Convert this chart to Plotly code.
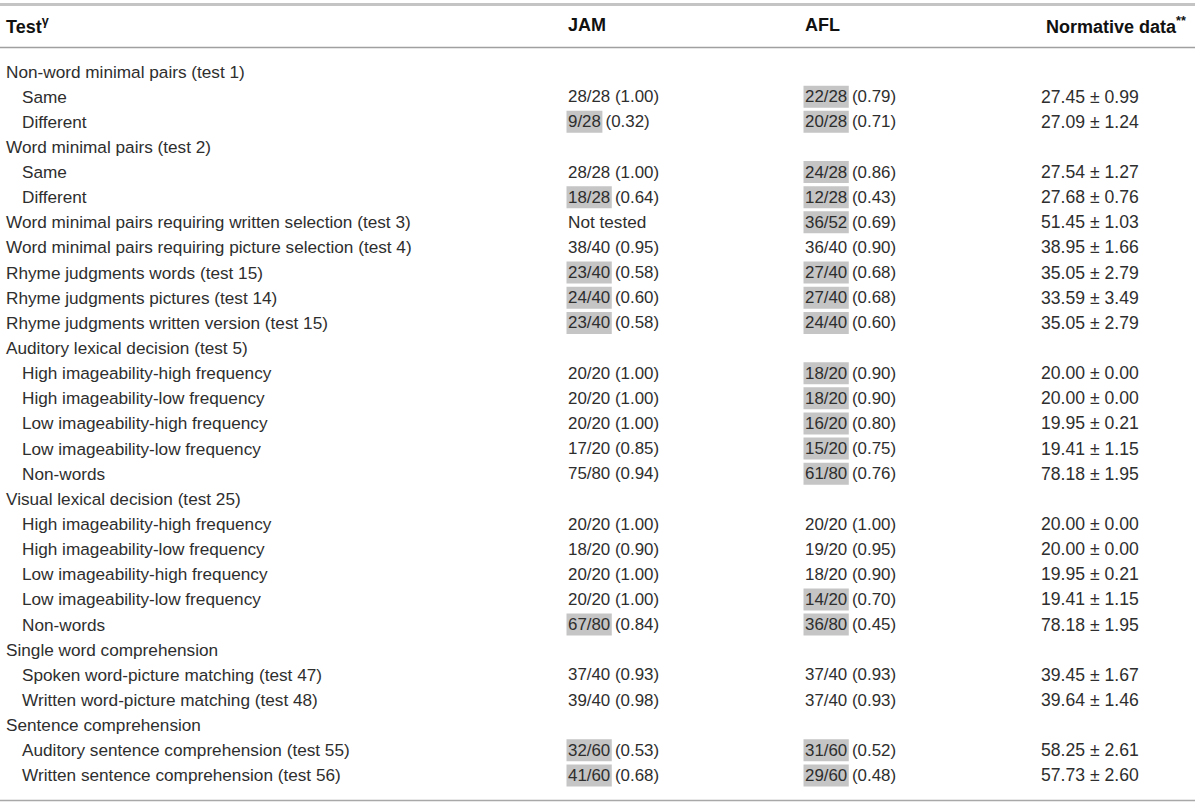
import plotly.graph_objects as go

# ---------------- data ----------------
row_labels = [
    "Non-word minimal pairs (test 1)", "Same", "Different",
    "Word minimal pairs (test 2)", "Same", "Different",
    "Word minimal pairs requiring written selection (test 3)",
    "Word minimal pairs requiring picture selection (test 4)",
    "Rhyme judgments words (test 15)",
    "Rhyme judgments pictures (test 14)",
    "Rhyme judgments written version (test 15)",
    "Auditory lexical decision (test 5)",
    "High imageability-high frequency", "High imageability-low frequency",
    "Low imageability-high frequency", "Low imageability-low frequency", "Non-words",
    "Visual lexical decision (test 25)",
    "High imageability-high frequency", "High imageability-low frequency",
    "Low imageability-high frequency", "Low imageability-low frequency", "Non-words",
    "Single word comprehension",
    "Spoken word-picture matching (test 47)", "Written word-picture matching (test 48)",
    "Sentence comprehension",
    "Auditory sentence comprehension (test 55)", "Written sentence comprehension (test 56)",
]
row_indent = [0, 1, 1, 0, 1, 1, 0, 0, 0, 0, 0, 0, 1, 1, 1, 1, 1, 0, 1, 1, 1, 1, 1, 0, 1, 1, 0, 1, 1]

jam_frac = ["", "28/28", "9/28", "", "28/28", "18/28", "Not tested", "38/40", "23/40", "24/40", "23/40",
            "", "20/20", "20/20", "20/20", "17/20", "75/80",
            "", "20/20", "18/20", "20/20", "20/20", "67/80",
            "", "37/40", "39/40", "", "32/60", "41/60"]
jam_prop = ["", "1.00", "0.32", "", "1.00", "0.64", "", "0.95", "0.58", "0.60", "0.58",
            "", "1.00", "1.00", "1.00", "0.85", "0.94",
            "", "1.00", "0.90", "1.00", "1.00", "0.84",
            "", "0.93", "0.98", "", "0.53", "0.68"]
jam_flag = [0, 0, 1, 0, 0, 1, 0, 0, 1, 1, 1, 0, 0, 0, 0, 0, 0, 0, 0, 0, 0, 0, 1, 0, 0, 0, 0, 1, 1]

afl_frac = ["", "22/28", "20/28", "", "24/28", "12/28", "36/52", "36/40", "27/40", "27/40", "24/40",
            "", "18/20", "18/20", "16/20", "15/20", "61/80",
            "", "20/20", "19/20", "18/20", "14/20", "36/80",
            "", "37/40", "37/40", "", "31/60", "29/60"]
afl_prop = ["", "0.79", "0.71", "", "0.86", "0.43", "0.69", "0.90", "0.68", "0.68", "0.60",
            "", "0.90", "0.90", "0.80", "0.75", "0.76",
            "", "1.00", "0.95", "0.90", "0.70", "0.45",
            "", "0.93", "0.93", "", "0.52", "0.48"]
afl_flag = [0, 1, 1, 0, 1, 1, 1, 0, 1, 1, 1, 0, 1, 1, 1, 1, 1, 0, 0, 0, 0, 1, 1, 0, 0, 0, 0, 1, 1]

norm_mean = ["", "27.45", "27.09", "", "27.54", "27.68", "51.45", "38.95", "35.05", "33.59", "35.05",
             "", "20.00", "20.00", "19.95", "19.41", "78.18",
             "", "20.00", "20.00", "19.95", "19.41", "78.18",
             "", "39.45", "39.64", "", "58.25", "57.73"]
norm_sd = ["", "0.99", "1.24", "", "1.27", "0.76", "1.03", "1.66", "2.79", "3.49", "2.79",
           "", "0.00", "0.00", "0.21", "1.15", "1.95",
           "", "0.00", "0.00", "0.21", "1.15", "1.95",
           "", "1.67", "1.46", "", "2.61", "2.60"]

headers = ["Test<sup>γ</sup>", "JAM", "AFL", "Normative data<sup>**</sup>"]

# ---------------- style / layout ----------------
W, H = 1200, 806
FONT = "Liberation Sans"
FS_LAB = 17.2
FS_NUM = 16.9
FS_NORM = 17.6
FS_HEAD = 18
TXT = "#2e2e2e"
HL = "#c5c5c5"
col_x = [6, 568, 805, 1041]
head_x = [6, 568, 805, 1046]
indent_px = 16
row_y0, row_dy = 71.5, 25.14
header_y = 25

# Arial-metric widths (em) for measuring fractions
cw = {c: 0.556 for c in "0123456789"}
cw.update({"/": 0.278, " ": 0.278})


def text_w(s, fs):
    return sum(cw.get(c, 0.556) for c in s) * fs


fig = go.Figure()
fig.add_trace(go.Scatter(x=[0, W], y=[0, H], mode="markers",
                         marker=dict(opacity=0), hoverinfo="skip", showlegend=False))

ann = []
shapes = []


def add_text(x, y, s, fs, bold=False):
    ann.append(dict(x=x, y=y, xref="x", yref="y", text=("<b>%s</b>" % s) if bold else s,
                    showarrow=False, xanchor="left", yanchor="middle",
                    font=dict(family=FONT, size=fs, color="#111" if bold else TXT),
                    borderpad=0, borderwidth=0))


for i, h in enumerate(headers):
    add_text(head_x[i], header_y, h, FS_HEAD, bold=True)

for i, lab in enumerate(row_labels):
    y = row_y0 + i * row_dy
    add_text(col_x[0] + indent_px * row_indent[i], y, lab, FS_LAB)
    for cx, fr, pr, fl in [(col_x[1], jam_frac, jam_prop, jam_flag),
                           (col_x[2], afl_frac, afl_prop, afl_flag)]:
        if not fr[i]:
            continue
        s = fr[i] + (" (%s)" % pr[i] if pr[i] else "")
        fs = FS_LAB if not pr[i] else FS_NUM
        if fl[i]:
            w = text_w(fr[i], fs)
            shapes.append(dict(type="rect", xref="x", yref="y", x0=cx - 1.5, x1=cx + w + 1.5,
                               y0=y - 11, y1=y + 11, fillcolor=HL, line=dict(width=0), layer="below"))
        add_text(cx, y, s, fs)
    if norm_mean[i]:
        add_text(col_x[3], y, "%s ± %s" % (norm_mean[i], norm_sd[i]), FS_NORM)

# rules
shapes.append(dict(type="line", xref="x", yref="y", x0=0, x1=1195, y0=4.5, y1=4.5,
                   line=dict(color="#c4c4c4", width=3)))
shapes.append(dict(type="line", xref="x", yref="y", x0=0, x1=1195, y0=47.5, y1=47.5,
                   line=dict(color="#a0a0a0", width=1.3)))
shapes.append(dict(type="line", xref="x", yref="y", x0=0, x1=1195, y0=800.5, y1=800.5,
                   line=dict(color="#a8a8a8", width=1.3)))

fig.update_layout(
    width=W, height=H, margin=dict(l=0, r=0, t=0, b=0),
    paper_bgcolor="white", plot_bgcolor="white",
    xaxis=dict(range=[0, W], visible=False, fixedrange=True),
    yaxis=dict(range=[H, 0], visible=False, fixedrange=True),
    annotations=ann, shapes=shapes,
)
fig.write_html("out.html", config={"displayModeBar": False},
               post_script="document.body.style.margin='0';document.body.style.overflow='hidden';")
